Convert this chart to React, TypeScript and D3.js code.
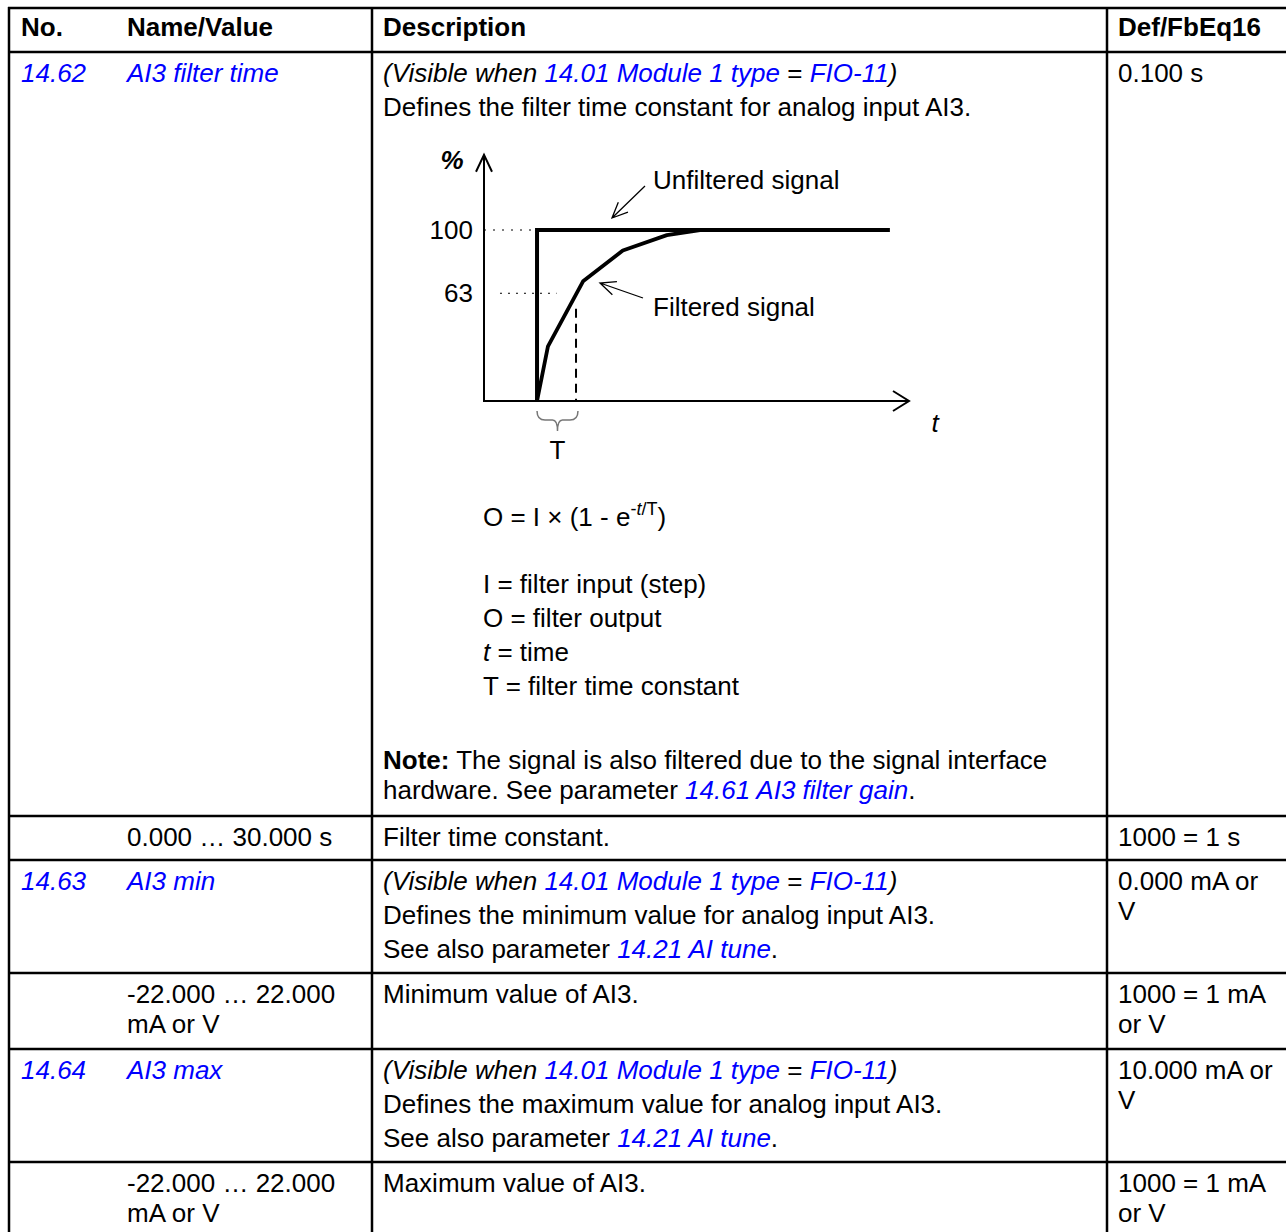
import React from "react";
import * as d3 from "d3";

const FONT = "'Liberation Sans', Arial, Helvetica, sans-serif";
const BLUE = "#0000ff";

type Seg = { t: string; b?: boolean; i?: boolean; link?: boolean; sup?: boolean };
type Line = Seg[];

// ---------- table content ----------
const headers = ["No.", "Name/Value", "Description", "Def/FbEq16"];

const row1Desc: Line[] = [
  [{ t: "(Visible when ", i: true }, { t: "14.01 Module 1 type", i: true, link: true }, { t: " = " }, { t: "FIO-11", i: true, link: true }, { t: ")", i: true }],
  [{ t: "Defines the filter time constant for analog input AI3." }],
];
const row1Note: Line[] = [
  [{ t: "Note:", b: true }, { t: " The signal is also filtered due to the signal interface" }],
  [{ t: "hardware. See parameter " }, { t: "14.61 AI3 filter gain", i: true, link: true }, { t: "." }],
];
const formulaLine: Line = [{ t: "O = I × (1 - e" }, { t: "-", sup: true }, { t: "t", sup: true, i: true }, { t: "/T", sup: true }, { t: ")" }];
const legendLines: Line[] = [
  [{ t: "I = filter input (step)" }],
  [{ t: "O = filter output" }],
  [{ t: "t", i: true }, { t: " = time" }],
  [{ t: "T = filter time constant" }],
];

const visibleLine: Line = row1Desc[0];

type Row = { no: Line[]; name: Line[]; desc: Line[]; def: Line[] };
const rows: Row[] = [
  { no: [[{ t: "14.62", i: true, link: true }]], name: [[{ t: "AI3 filter time", i: true, link: true }]], desc: [], def: [[{ t: "0.100 s" }]] },
  { no: [], name: [[{ t: "0.000 … 30.000 s" }]], desc: [[{ t: "Filter time constant." }]], def: [[{ t: "1000 = 1 s" }]] },
  {
    no: [[{ t: "14.63", i: true, link: true }]], name: [[{ t: "AI3 min", i: true, link: true }]],
    desc: [visibleLine, [{ t: "Defines the minimum value for analog input AI3." }], [{ t: "See also parameter " }, { t: "14.21 AI tune", i: true, link: true }, { t: "." }]],
    def: [[{ t: "0.000 mA or" }], [{ t: "V" }]],
  },
  { no: [], name: [[{ t: "-22.000 … 22.000" }], [{ t: "mA or V" }]], desc: [[{ t: "Minimum value of AI3." }]], def: [[{ t: "1000 = 1 mA" }], [{ t: "or V" }]] },
  {
    no: [[{ t: "14.64", i: true, link: true }]], name: [[{ t: "AI3 max", i: true, link: true }]],
    desc: [visibleLine, [{ t: "Defines the maximum value for analog input AI3." }], [{ t: "See also parameter " }, { t: "14.21 AI tune", i: true, link: true }, { t: "." }]],
    def: [[{ t: "10.000 mA or" }], [{ t: "V" }]],
  },
  { no: [], name: [[{ t: "-22.000 … 22.000" }], [{ t: "mA or V" }]], desc: [[{ t: "Maximum value of AI3." }]], def: [[{ t: "1000 = 1 mA" }], [{ t: "or V" }]] },
];

// ---------- diagram data (time in units of T, level in %) ----------
const stepT = [0, 0, 9.05];
const stepPct = [0, 100, 100];
const filteredT = [0, 0.28, 1.18, 2.2, 3.33, 4.18];
const filteredPct = [0, 32, 70, 88, 97, 100];
const levelTicks = [100, 63];
const levelLabels = ["100", "63"];

// ---------- layout ----------
const W = 1286;
const H = 1232;
const FS = 26;
const colX = [21, 127, 383, 1118];
const vLines = [9, 372, 1107];
const rowTops = [52, 816, 860, 973, 1049, 1162];

function renderLine(line: Line, x: number, y: number, key: string, anchor = "start", size = FS) {
  return (
    <text key={key} x={x} y={y} fontFamily={FONT} fontSize={size} textAnchor={anchor} fill="#000">
      {line.map((s, i) => {
        const prevSup = i > 0 && line[i - 1].sup;
        let dy: number | undefined = undefined;
        if (s.sup && !prevSup) dy = -11;
        else if (!s.sup && prevSup) dy = 11;
        return (
          <tspan
            key={i}
            dy={dy}
            fontSize={s.sup ? 18 : undefined}
            fontWeight={s.b ? "bold" : undefined}
            fontStyle={s.i ? "italic" : undefined}
            fill={s.link ? BLUE : "#000"}
            style={{ whiteSpace: "pre" }}
          >
            {s.t}
          </tspan>
        );
      })}
    </text>
  );
}

function arrowPath(tip: [number, number], tail: [number, number], len = 17, ang = 0.42) {
  const a = Math.atan2(tail[1] - tip[1], tail[0] - tip[0]);
  const w1: [number, number] = [tip[0] + len * Math.cos(a + ang), tip[1] + len * Math.sin(a + ang)];
  const w2: [number, number] = [tip[0] + len * Math.cos(a - ang), tip[1] + len * Math.sin(a - ang)];
  return `M${tail[0]},${tail[1]}L${tip[0]},${tip[1]}M${w1[0]},${w1[1]}L${tip[0]},${tip[1]}L${w2[0]},${w2[1]}`;
}

function Diagram() {
  const x = d3.scaleLinear().domain([-1.36, 9.54]).range([484, 909]);
  const y = d3.scaleLinear().domain([0, 100]).range([401, 230]);
  const line = d3.line<[number, number]>().x((d) => x(d[0])).y((d) => y(d[1]));
  const stepPts = stepT.map((t, i) => [t, stepPct[i]] as [number, number]);
  const filtPts = filteredT.map((t, i) => [t, filteredPct[i]] as [number, number]);
  const x0 = x(-1.36);
  const y0 = y(0);
  const yTop = y(144);
  const xEnd = x(9.54);
  const bL = x(0), bR = x(1.05), bM = (bL + bR) / 2;
  const bY = y0 + 10;
  return (
    <g>
      {/* axes */}
      <path d={`M${x0},${yTop}L${x0},${y0}L${xEnd},${y0}`} fill="none" stroke="#000" strokeWidth={2} />
      <path d={`M${x0 - 8},${yTop + 17}L${x0},${yTop}L${x0 + 8},${yTop + 17}`} fill="none" stroke="#000" strokeWidth={2} />
      <path d={`M${xEnd - 16},${y0 - 10}L${xEnd},${y0}L${xEnd - 16},${y0 + 10}`} fill="none" stroke="#000" strokeWidth={2} />
      {/* reference dotted lines */}
      <line x1={x0} x2={x(0)} y1={y(100)} y2={y(100)} stroke="#000" strokeWidth={1} strokeDasharray="2 7" />
      <line x1={x(-0.95)} x2={x(0.5)} y1={y(63)} y2={y(63)} stroke="#000" strokeWidth={1} strokeDasharray="2 6" />
      <line x1={x(1)} x2={x(1)} y1={y(54)} y2={y0} stroke="#000" strokeWidth={2} strokeDasharray="9 6" />
      {/* signals */}
      <path d={line(stepPts) || ""} fill="none" stroke="#000" strokeWidth={4} strokeLinejoin="miter" />
      <path d={line(filtPts) || ""} fill="none" stroke="#000" strokeWidth={3.8} strokeLinejoin="round" />
      {/* tick labels */}
      {levelTicks.map((v, i) => (
        <text key={v} x={473} y={y(v) + 9} fontFamily={FONT} fontSize={FS} textAnchor="end">{levelLabels[i]}</text>
      ))}
      <text x={452} y={169} fontFamily={FONT} fontSize={FS} fontStyle="italic" fontWeight="bold" textAnchor="middle">%</text>
      <text x={935} y={432} fontFamily={FONT} fontSize={FS} fontStyle="italic" textAnchor="middle">t</text>
      {/* brace */}
      <path
        d={`M${bL},${bY}Q${bL},${bY + 9} ${bL + 8},${bY + 9}L${bM - 5},${bY + 9}Q${bM},${bY + 9} ${bM},${bY + 20}Q${bM},${bY + 9} ${bM + 5},${bY + 9}L${bR - 8},${bY + 9}Q${bR},${bY + 9} ${bR},${bY}`}
        fill="none"
        stroke="#777"
        strokeWidth={1.5}
      />
      <text x={bM} y={459} fontFamily={FONT} fontSize={FS} textAnchor="middle">T</text>
      {/* annotations */}
      <path d={arrowPath([612, 218], [645, 186])} fill="none" stroke="#000" strokeWidth={1.3} />
      <text x={653} y={189} fontFamily={FONT} fontSize={FS}>Unfiltered signal</text>
      <path d={arrowPath([600, 283], [643, 298])} fill="none" stroke="#000" strokeWidth={1.3} />
      <text x={653} y={316} fontFamily={FONT} fontSize={FS}>Filtered signal</text>
    </g>
  );
}

export default function App() {
  const cells: React.ReactNode[] = [];
  rows.forEach((r, ri) => {
    const base = rowTops[ri] + 30;
    r.no.forEach((l, li) => cells.push(renderLine(l, colX[0], base + li * 30, `no${ri}-${li}`)));
    r.name.forEach((l, li) => cells.push(renderLine(l, colX[1], base + li * 30, `nm${ri}-${li}`)));
    r.desc.forEach((l, li) => cells.push(renderLine(l, colX[2], base + li * 34, `ds${ri}-${li}`)));
    r.def.forEach((l, li) => cells.push(renderLine(l, colX[3], base + li * 30, `df${ri}-${li}`)));
  });
  row1Desc.forEach((l, li) => cells.push(renderLine(l, colX[2], 82 + li * 34, `r1d${li}`)));
  cells.push(renderLine(formulaLine, 483, 526, "formula"));
  legendLines.forEach((l, li) => cells.push(renderLine(l, 483, 593 + li * 34, `lg${li}`)));
  row1Note.forEach((l, li) => cells.push(renderLine(l, colX[2], 769 + li * 30, `nt${li}`)));

  return (
    <svg width={W} height={H} style={{ position: "absolute", left: 0, top: 0, display: "block", background: "#fff" }}>
      <rect x={0} y={0} width={W} height={H} fill="#fff" />
      {/* horizontal rules */}
      <line x1={vLines[0] - 1} x2={W} y1={8} y2={8} stroke="#000" strokeWidth={2.5} />
      {rowTops.map((yy) => (
        <line key={yy} x1={vLines[0] - 1} x2={W} y1={yy} y2={yy} stroke="#000" strokeWidth={2.5} />
      ))}
      {/* vertical rules */}
      {vLines.map((xx) => (
        <line key={xx} x1={xx} x2={xx} y1={7} y2={H} stroke="#000" strokeWidth={2.5} />
      ))}
      {headers.map((h, i) => (
        <text key={h} x={colX[i]} y={36} fontFamily={FONT} fontSize={FS} fontWeight="bold">{h}</text>
      ))}
      {cells}
      <Diagram />
    </svg>
  );
}
